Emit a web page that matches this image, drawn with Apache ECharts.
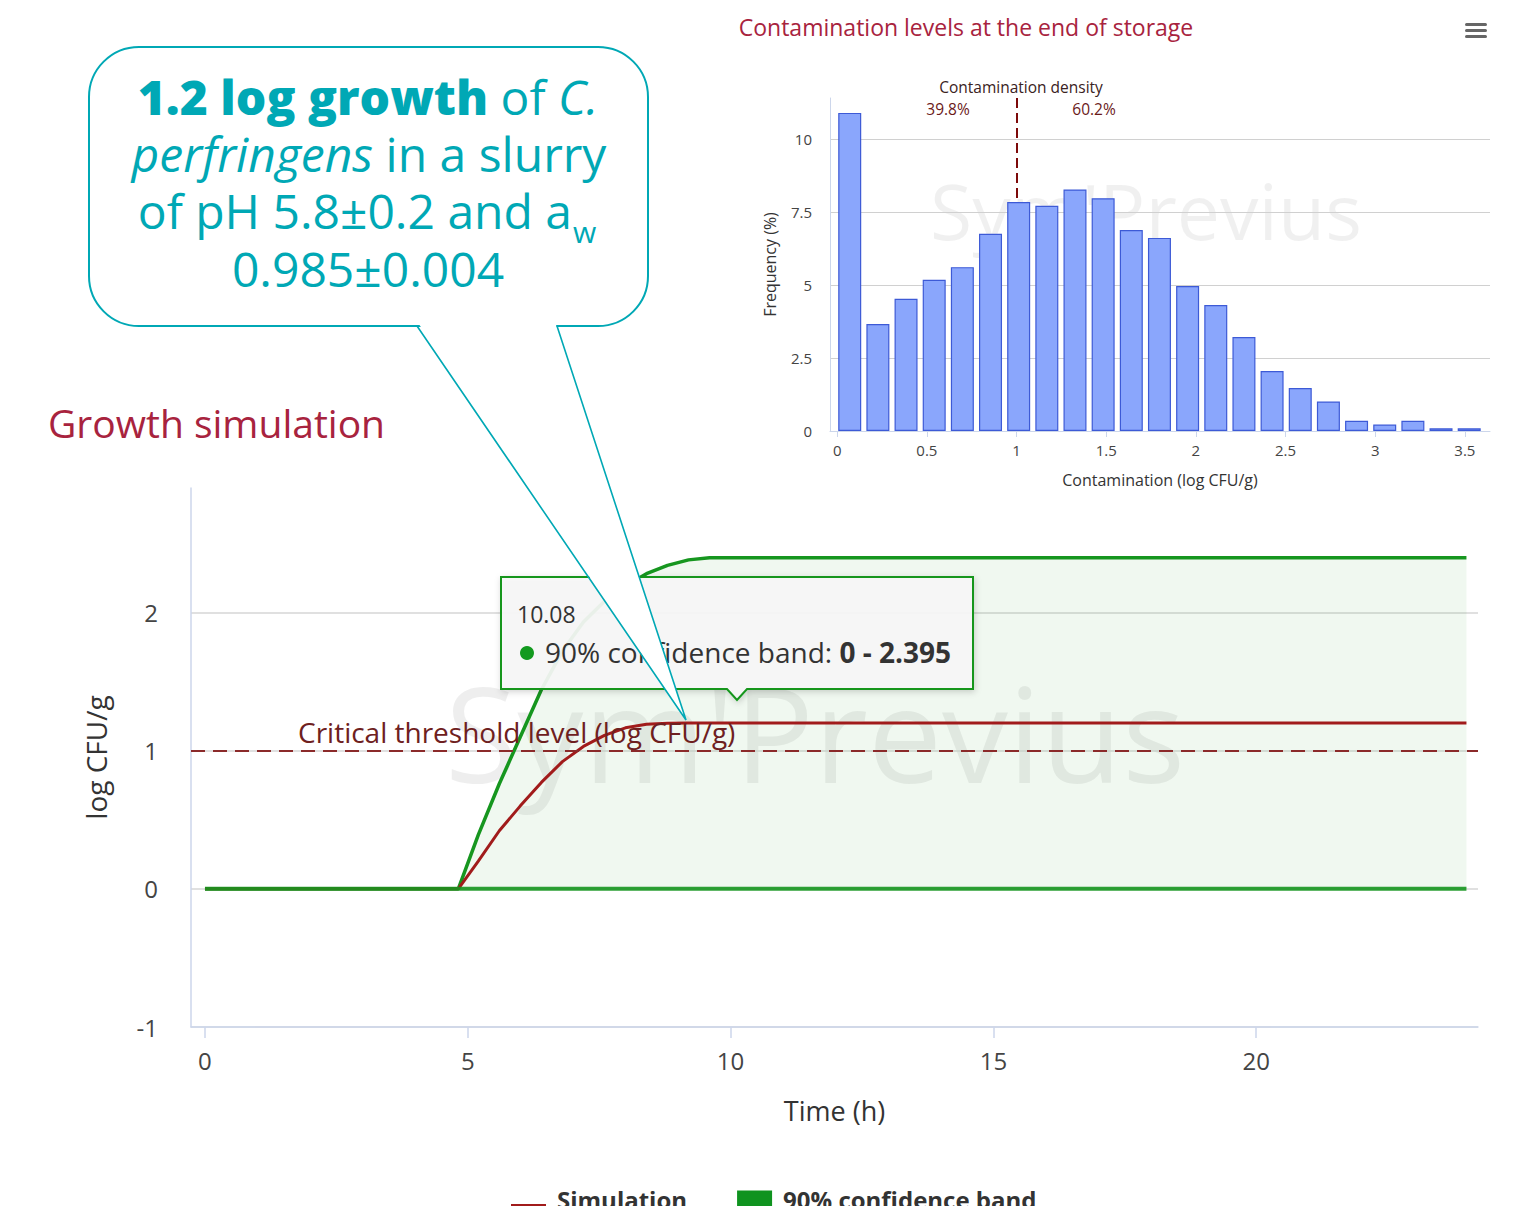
<!DOCTYPE html>
<html><head><meta charset="utf-8">
<script src="https://cdn.jsdelivr.net/npm/echarts@6/dist/echarts.min.js"></script>
<style>html,body{margin:0;padding:0;background:#fff}#c{width:1527px;height:1206px}</style>
</head><body><div id="c"></div>
<script>
// ---- Growth simulation data ----
const timeH      = [0, 4.82, 5.2, 5.6, 6.0, 6.4, 6.8, 7.2, 7.6, 8.0, 8.4, 8.8, 9.2, 9.6, 10.08, 24];
const simulation = [0, 0, 0.2, 0.42, 0.6, 0.77, 0.92, 1.03, 1.11, 1.165, 1.19, 1.197, 1.2, 1.2, 1.2, 1.2];
const bandLower  = [0, 0, 0, 0, 0, 0, 0, 0, 0, 0, 0, 0, 0, 0, 0, 0];
const bandUpper  = [0, 0, 0.39, 0.76, 1.1, 1.44, 1.72, 1.93, 2.08, 2.19, 2.28, 2.34, 2.38, 2.395, 2.395, 2.395];
const threshold  = 1;
const timeTicks  = [0, 5, 10, 15, 20];
const logTicks   = [-1, 0, 1, 2];

// ---- Histogram data ----
const binCenters = [0.07, 0.227, 0.384, 0.541, 0.698, 0.855, 1.012, 1.169, 1.326, 1.483, 1.64, 1.797,
                    1.954, 2.111, 2.268, 2.425, 2.582, 2.739, 2.896, 3.053, 3.21, 3.367, 3.524];
const binFreq    = [10.89, 3.66, 4.53, 5.18, 5.61, 6.75, 7.84, 7.71, 8.27, 7.97, 6.88, 6.61,
                    4.96, 4.31, 3.22, 2.05, 1.47, 1.01, 0.35, 0.22, 0.35, 0.09, 0.09];
const histTicks  = [0, 0.5, 1, 1.5, 2, 2.5, 3, 3.5];
const freqTicks  = [0, 2.5, 5, 7.5, 10];
const densitySplit = 1;
const shareBelow = '39.8%';
const shareAbove = '60.2%';

const FONT = 'Open Sans';
const GREEN = '#16961f';
const RED = '#a11b1b';
const TEAL = '#00a8b5';
const TITLE = '#a8233e';

// measure text widths to lay out adjacent text pieces
const mctx = document.createElement('canvas').getContext('2d');
function tw(font, s) { mctx.font = font; return mctx.measureText(s).width; }

const chart = echarts.init(document.getElementById('c'), null, {renderer: 'svg'});

const ttNormalFont = '28px "Open Sans"';
const ttBoldFont = 'bold 28px "Open Sans"';
const ttNormal = '90% confidence band: ';
const ttBold = '0 - 2.395';
const ttX = 545;

const cBold = '800 48px "Open Sans"', cReg = '48px "Open Sans"', cIt = 'italic 48px "Open Sans"';
const l1a = '1.2 log growth', l1b = ' of ', l1c = 'C.';
const l1w = tw(cBold, l1a) + tw(cReg, l1b) + tw(cIt, l1c);
const l1x = 368 - l1w / 2;
const l2a = 'perfringens', l2b = ' in a slurry';
const l2w = tw(cIt, l2a) + tw(cReg, l2b);
const l2x = 369 - l2w / 2;

function txt(x, y, s, font, fill, align, z, vAlign) {
  return {type: 'text', z: z, x: x, y: y, style: {text: s, font: font, fill: fill, align: align || 'left', verticalAlign: vAlign || 'middle'}};
}

chart.setOption({
  animation: false,
  textStyle: {fontFamily: FONT},
  grid: [
    {left: 191, top: 488, width: 1287, height: 539, containLabel: false},
    {left: 830, top: 98, width: 660, height: 333, containLabel: false}
  ],
  legend: {
    left: 506, top: 1182, itemWidth: 35, itemHeight: 17, itemGap: 50, selectedMode: false,
    textStyle: {fontSize: 24, fontWeight: 'bold', color: '#333', padding: [0, 0, 0, 6]},
    data: [
      {name: 'Simulation', icon: 'path://M0,0 L0.01,0 M0,13 L35,13 L35,16 L0,16 Z', itemStyle: {color: RED}},
      {name: '90% confidence band', icon: 'rect', itemStyle: {color: '#0f931f'}}
    ]
  },
  xAxis: [
    {gridIndex: 0, type: 'value', min: -0.266, max: 24.22,
     axisLine: {show: true, onZero: false, lineStyle: {color: '#ccd6eb', width: 1.5}},
     axisTick: {show: true, customValues: timeTicks, length: 11, lineStyle: {color: '#ccd6eb', width: 1.5}},
     axisLabel: {customValues: timeTicks, fontSize: 24, color: '#444', margin: 21},
     splitLine: {show: false},
     name: 'Time (h)', nameLocation: 'middle', nameGap: 70,
     nameTextStyle: {fontSize: 27, color: '#333'}},
    {gridIndex: 1, type: 'value', min: -0.04, max: 3.64,
     axisLine: {show: true, onZero: false, lineStyle: {color: '#ccd6eb', width: 1}},
     axisTick: {show: true, customValues: histTicks, length: 6, lineStyle: {color: '#ccd6eb'}},
     axisLabel: {customValues: histTicks, fontSize: 15, color: '#444', margin: 11},
     splitLine: {show: false},
     name: 'Contamination (log CFU/g)', nameLocation: 'middle', nameGap: 41,
     nameTextStyle: {fontSize: 16, color: '#333'}}
  ],
  yAxis: [
    {gridIndex: 0, type: 'value', min: -1, max: 2.9, interval: 1,
     axisLine: {show: true, onZero: false, lineStyle: {color: '#ccd6eb', width: 1.5}},
     axisTick: {show: false, customValues: logTicks},
     axisLabel: {customValues: logTicks, fontSize: 24, color: '#444', margin: 33},
     splitLine: {show: true, lineStyle: {color: '#d6d6d6', width: 1.5}},
     name: 'log CFU/g', nameLocation: 'middle', nameGap: 81,
     nameTextStyle: {fontSize: 28, color: '#333'}},
    {gridIndex: 1, type: 'value', min: 0, max: 11.4, interval: 2.5,
     axisLine: {show: true, onZero: false, lineStyle: {color: '#ccd6eb', width: 1}},
     axisTick: {show: false, customValues: freqTicks},
     axisLabel: {customValues: freqTicks, fontSize: 15, color: '#444', margin: 18},
     splitLine: {show: true, lineStyle: {color: '#d0d0d0', width: 1}},
     name: 'Frequency (%)', nameLocation: 'middle', nameGap: 52,
     nameTextStyle: {fontSize: 16, color: '#333'}}
  ],
  series: [
    {name: '90% confidence band', type: 'custom', xAxisIndex: 0, yAxisIndex: 0, z: 2,
     data: timeH.map((t, i) => [t, bandLower[i], bandUpper[i]]),
     encode: {x: 0, y: [1, 2]},
     itemStyle: {color: '#0f931f'},
     renderItem: function (params, api) {
       if (params.dataIndex !== 0) return null;
       const up = [], lo = [];
       for (let i = 0; i < timeH.length; i++) {
         up.push(api.coord([timeH[i], bandUpper[i]]));
         lo.push(api.coord([timeH[i], bandLower[i]]));
       }
       return {type: 'polygon', shape: {points: up.concat(lo.reverse())}, style: {fill: 'rgba(30,150,30,0.065)'}};
     }},
    {name: 'band lower', type: 'line', xAxisIndex: 0, yAxisIndex: 0,
     data: timeH.map((t, i) => [t, bandLower[i]]), symbol: 'none', z: 5,
     lineStyle: {color: GREEN, width: 4, opacity: 0.9}, itemStyle: {color: GREEN}},
    {name: 'band upper', type: 'line', xAxisIndex: 0, yAxisIndex: 0,
     data: timeH.map((t, i) => [t, bandUpper[i]]), symbol: 'none', z: 3,
     lineStyle: {color: GREEN, width: 3.5}, itemStyle: {color: GREEN}},
    {name: 'Simulation', type: 'line', xAxisIndex: 0, yAxisIndex: 0,
     data: timeH.map((t, i) => [t, simulation[i]]), symbol: 'none', z: 4,
     lineStyle: {color: RED, width: 3}, itemStyle: {color: RED},
     markLine: {silent: true, symbol: 'none', animation: false,
       lineStyle: {color: '#8b2a2a', type: [14, 8], width: 2},
       label: {show: true, position: 'insideStartTop', distance: [107, 5],
               formatter: 'Critical threshold level (log CFU/g)',
               color: '#6e2020', fontSize: 28, fontFamily: FONT},
       data: [{yAxis: threshold}]}},
    {name: 'Contamination', type: 'bar', xAxisIndex: 1, yAxisIndex: 1,
     data: binCenters.map((x, i) => [x, binFreq[i]]), barWidth: 23, z: 2,
     itemStyle: {color: '#8aa6fc', borderColor: '#3d5ad6', borderWidth: 1.2},
     markLine: {silent: true, symbol: 'none', animation: false,
       lineStyle: {color: '#7d0a0a', type: [10, 5], width: 2},
       label: {show: false},
       data: [[{coord: [densitySplit, 11.4]}, {coord: [densitySplit, 7.95]}]]}}
  ],
  graphic: [
    // watermarks
    txt(815, 732, "Sym'Previus", '132px "Open Sans"', 'rgba(0,0,0,0.065)', 'center', 0),
    txt(1146, 210, "Sym'Previus", '77px "Open Sans"', 'rgba(0,0,0,0.06)', 'center', 0),
    // titles
    txt(48, 422, 'Growth simulation', '39px "Open Sans"', TITLE, 'left', 10),
    txt(966, 27, 'Contamination levels at the end of storage', '23px "Open Sans"', TITLE, 'center', 10),
    // menu icon
    {type: 'rect', z: 10, shape: {x: 1465, y: 23, width: 22, height: 3, r: 1.5}, style: {fill: '#666'}},
    {type: 'rect', z: 10, shape: {x: 1465, y: 29, width: 22, height: 3, r: 1.5}, style: {fill: '#666'}},
    {type: 'rect', z: 10, shape: {x: 1465, y: 35, width: 22, height: 3, r: 1.5}, style: {fill: '#666'}},
    // histogram annotations
    txt(1021, 87, 'Contamination density', '15.5px "Open Sans"', '#3a2222', 'center', 10),
    txt(948, 109, shareBelow, '15.5px "Open Sans"', '#6b1a1a', 'center', 10),
    txt(1094, 109, shareAbove, '15.5px "Open Sans"', '#6b1a1a', 'center', 10),
    // tooltip
    {type: 'polygon', z: 50, shape: {points: [[501, 577], [973, 577], [973, 689], [747, 689], [737, 700], [727, 689], [501, 689]]},
     style: {fill: 'rgba(247,247,247,0.93)', stroke: GREEN, lineWidth: 2, shadowBlur: 6, shadowColor: 'rgba(0,0,0,0.18)', shadowOffsetX: 1, shadowOffsetY: 2}},
    txt(517, 614, '10.08', '23px "Open Sans"', '#333', 'left', 51),
    {type: 'circle', z: 51, shape: {cx: 527, cy: 653, r: 7}, style: {fill: '#139a1f'}},
    txt(ttX, 652, ttNormal, ttNormalFont, '#333', 'left', 51),
    txt(ttX + tw(ttNormalFont, ttNormal), 652, ttBold, ttBoldFont, '#333', 'left', 51),
    // callout
    {type: 'rect', z: 100, shape: {x: 89, y: 47, width: 559, height: 279, r: 50}, style: {fill: '#fff', stroke: TEAL, lineWidth: 2}},
    {type: 'polygon', z: 101, shape: {points: [[418.5, 323.5], [686, 720], [555.5, 323.5]]}, style: {fill: '#fff'}},
    {type: 'polyline', z: 102, shape: {points: [[417, 326], [686, 720], [557, 326]]}, style: {fill: null, stroke: TEAL, lineWidth: 1.6}},
    txt(l1x, 120, l1a, cBold, TEAL, 'left', 103, 'bottom'),
    txt(l1x + tw(cBold, l1a), 120, l1b, cReg, TEAL, 'left', 103, 'bottom'),
    txt(l1x + tw(cBold, l1a) + tw(cReg, l1b), 120, l1c, cIt, TEAL, 'left', 103, 'bottom'),
    txt(l2x, 177, l2a, cIt, TEAL, 'left', 103, 'bottom'),
    txt(l2x + tw(cIt, l2a), 177, l2b, cReg, TEAL, 'left', 103, 'bottom'),
    txt(572, 234, 'of pH 5.8±0.2 and a', cReg, TEAL, 'right', 103, 'bottom'),
    txt(573, 246, 'w', '30px "Open Sans"', TEAL, 'left', 103, 'bottom'),
    txt(368, 292, '0.985±0.004', cReg, TEAL, 'center', 103, 'bottom')
  ]
});
</script>
</body></html>
